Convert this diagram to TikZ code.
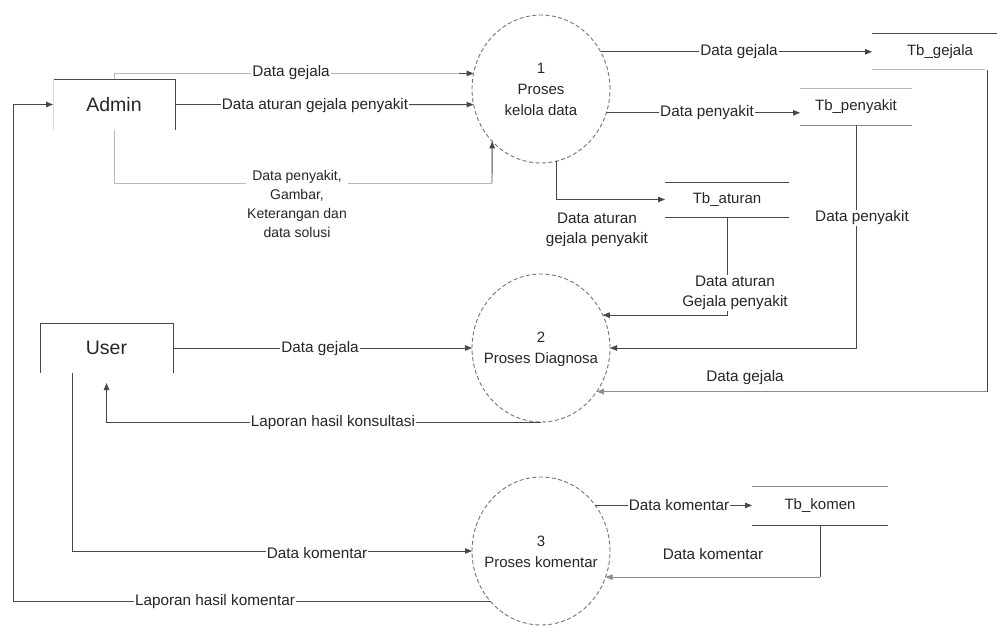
\documentclass[tikz,border=0pt]{standalone}
\usepackage{fontspec}
\setmainfont{Liberation Sans}
\usetikzlibrary{shapes.geometric,arrows.meta}
\begin{document}
\begin{tikzpicture}[x=1pt,y=-1pt,
  line/.style={draw=black!72, line width=0.9pt},
  flow/.style={line, -{Triangle[length=7pt,width=5.5pt]}},
  faint/.style={draw=black!28, line width=0.8pt},
  mid/.style={draw=black!45, line width=0.8pt},
  proc/.style={ellipse, draw=black!55, dash pattern=on 4pt off 2.5pt, line width=0.9pt,
    minimum width=138pt, minimum height=148pt, inner sep=0pt, outer sep=0pt},
  ptext/.style={align=center, font=\fontsize{15}{21}\selectfont, text=black!85, inner sep=0pt},
  entity/.style={rectangle, inner sep=0pt, outer sep=0pt, font=\fontsize{19.5}{22}\selectfont, text=black!85},
  store/.style={rectangle, inner sep=0pt, outer sep=0pt, font=\fontsize{15}{18}\selectfont, text=black!85},
  lbl/.style={fill=white, inner sep=1pt, align=center, font=\fontsize{15.3}{20}\selectfont, text=black!85},
]
\useasboundingbox (0,0) rectangle (997,625);

% external entities
\node[entity, minimum width=122pt, minimum height=51pt] (admin) at (114,104.5) {Admin};
\node[entity, minimum width=133pt, minimum height=50pt] (user) at (106.5,348) {User};
\draw[line] (admin.north west) -- (admin.north east) -- (admin.south east);
\draw[draw=black!14, line width=0.8pt] (admin.north west) -- (admin.south west);
\draw[line] (user.south west) -- (user.north west) -- (user.north east) -- (user.south east);

% processes
\node[proc] (p1) at (541,89) {};
\node[ptext] (t1) at (p1) {1\\Proses\\kelola data};
\node[proc] (p2) at (541,348) {};
\node[ptext] (t2) at (541,349.5) {2\\Proses Diagnosa};
\node[proc] (p3) at (541,551) {};
\node[ptext] (t3) at (541,552) {3\\Proses komentar};

% data stores
\node[store, minimum width=136pt, minimum height=36pt] (sg) at (940,51.5) {Tb\_gejala};
\node[store, minimum width=112pt, minimum height=37pt] (sp) at (856,106.5) {Tb\_penyakit};
\node[store, minimum width=124pt, minimum height=35pt] (sa) at (727,199.5) {Tb\_aturan};
\node[store, minimum width=136pt, minimum height=39pt] (sk) at (820,505.5) {Tb\_komen};
\draw[line] (sg.north west) -- (sg.north east);
\draw[faint] (sg.south west) -- ([xshift=-23pt]sg.south east);
\draw[faint] (sp.north west) -- (sp.north east);
\draw[mid] (sp.south west) -- (sp.south east);
\draw[line] (sa.north west) -- (sa.north east);
\draw[line] (sa.south west) -- (sa.south east);
\draw[mid] (sk.north west) -- (sk.north east);
\draw[line] (sk.south west) -- (sk.south east);

% helper points
\coordinate (lk) at (13,0);
\coordinate (c1) at (492,183);

% flows around Admin
\draw[flow] (p3.225) -- (p3.225 -| lk) |- (admin.west);
\draw[faint] (admin.north) |- (p1.167);
\draw[flow] ([xshift=-15pt]p1.167) -- (p1.167);
\draw[flow] (admin.east) -- (p1.193);
\draw[faint] (admin.south) |- (c1);
\draw[flow] (c1) -- (p1.227);

% flows around User
\draw[flow] (user.east) -- (p2.west);
\draw[flow, shorten >=10pt] (p2.south) -| (user.south);
\draw[flow] ([xshift=32pt]user.south west) |- (p3.west);

% flows between processes and stores
\draw[flow] (p1.32) -- (p1.32 -| sg.west);
\draw[flow] (p1.340) -- (p1.340 -| sp.west);
\draw[flow] (p1.282) |- (sa.west);
\draw[flow] (sa.south) |- (p2.28);
\draw[flow] (sp.south) |- (p2.east);
\draw[line] ([xshift=47pt]sg.south) -- ([xshift=47pt]sg.south |- p2.322);
\draw[mid, -{Triangle[length=7pt,width=5.5pt]}] ([xshift=47pt]sg.south |- p2.322) -- (p2.322);
\draw[flow] (p3.40) -- (p3.40 -| sk.west);
\draw[line] (sk.south) -- (sk.south |- p3.338);
\draw[mid, -{Triangle[length=7pt,width=5.5pt]}] (sk.south |- p3.338) -- (p3.338);

% flow labels
\node[lbl] (l1) at (291,73) {Data gejala};
\node[lbl] (l2) at (315,106) {Data aturan gejala penyakit};
\node[lbl, font=\fontsize{14}{19.3}\selectfont] (l3) at (297,204) {Data penyakit,\\Gambar,\\Keterangan dan\\data solusi};
\node[lbl] (l4) at (739,52) {Data gejala};
\node[lbl] (l5) at (707,113) {Data penyakit};
\node[lbl] (l6) at (597,229.5) {Data aturan\\gejala penyakit};
\node[lbl] (l7) at (862,218) {Data penyakit};
\node[lbl] (l8) at (735,293) {Data aturan\\Gejala penyakit};
\node[lbl] (l9) at (745,378) {Data gejala};
\node[lbl] (l10) at (320,349) {Data gejala};
\node[lbl] (l11) at (333,423) {Laporan hasil konsultasi};
\node[lbl] (l12) at (679,505) {Data komentar};
\node[lbl] (l13) at (713,554) {Data komentar};
\node[lbl] (l14) at (317,553) {Data komentar};
\node[lbl] (l15) at (215,602) {Laporan hasil komentar};
\end{tikzpicture}
\end{document}
